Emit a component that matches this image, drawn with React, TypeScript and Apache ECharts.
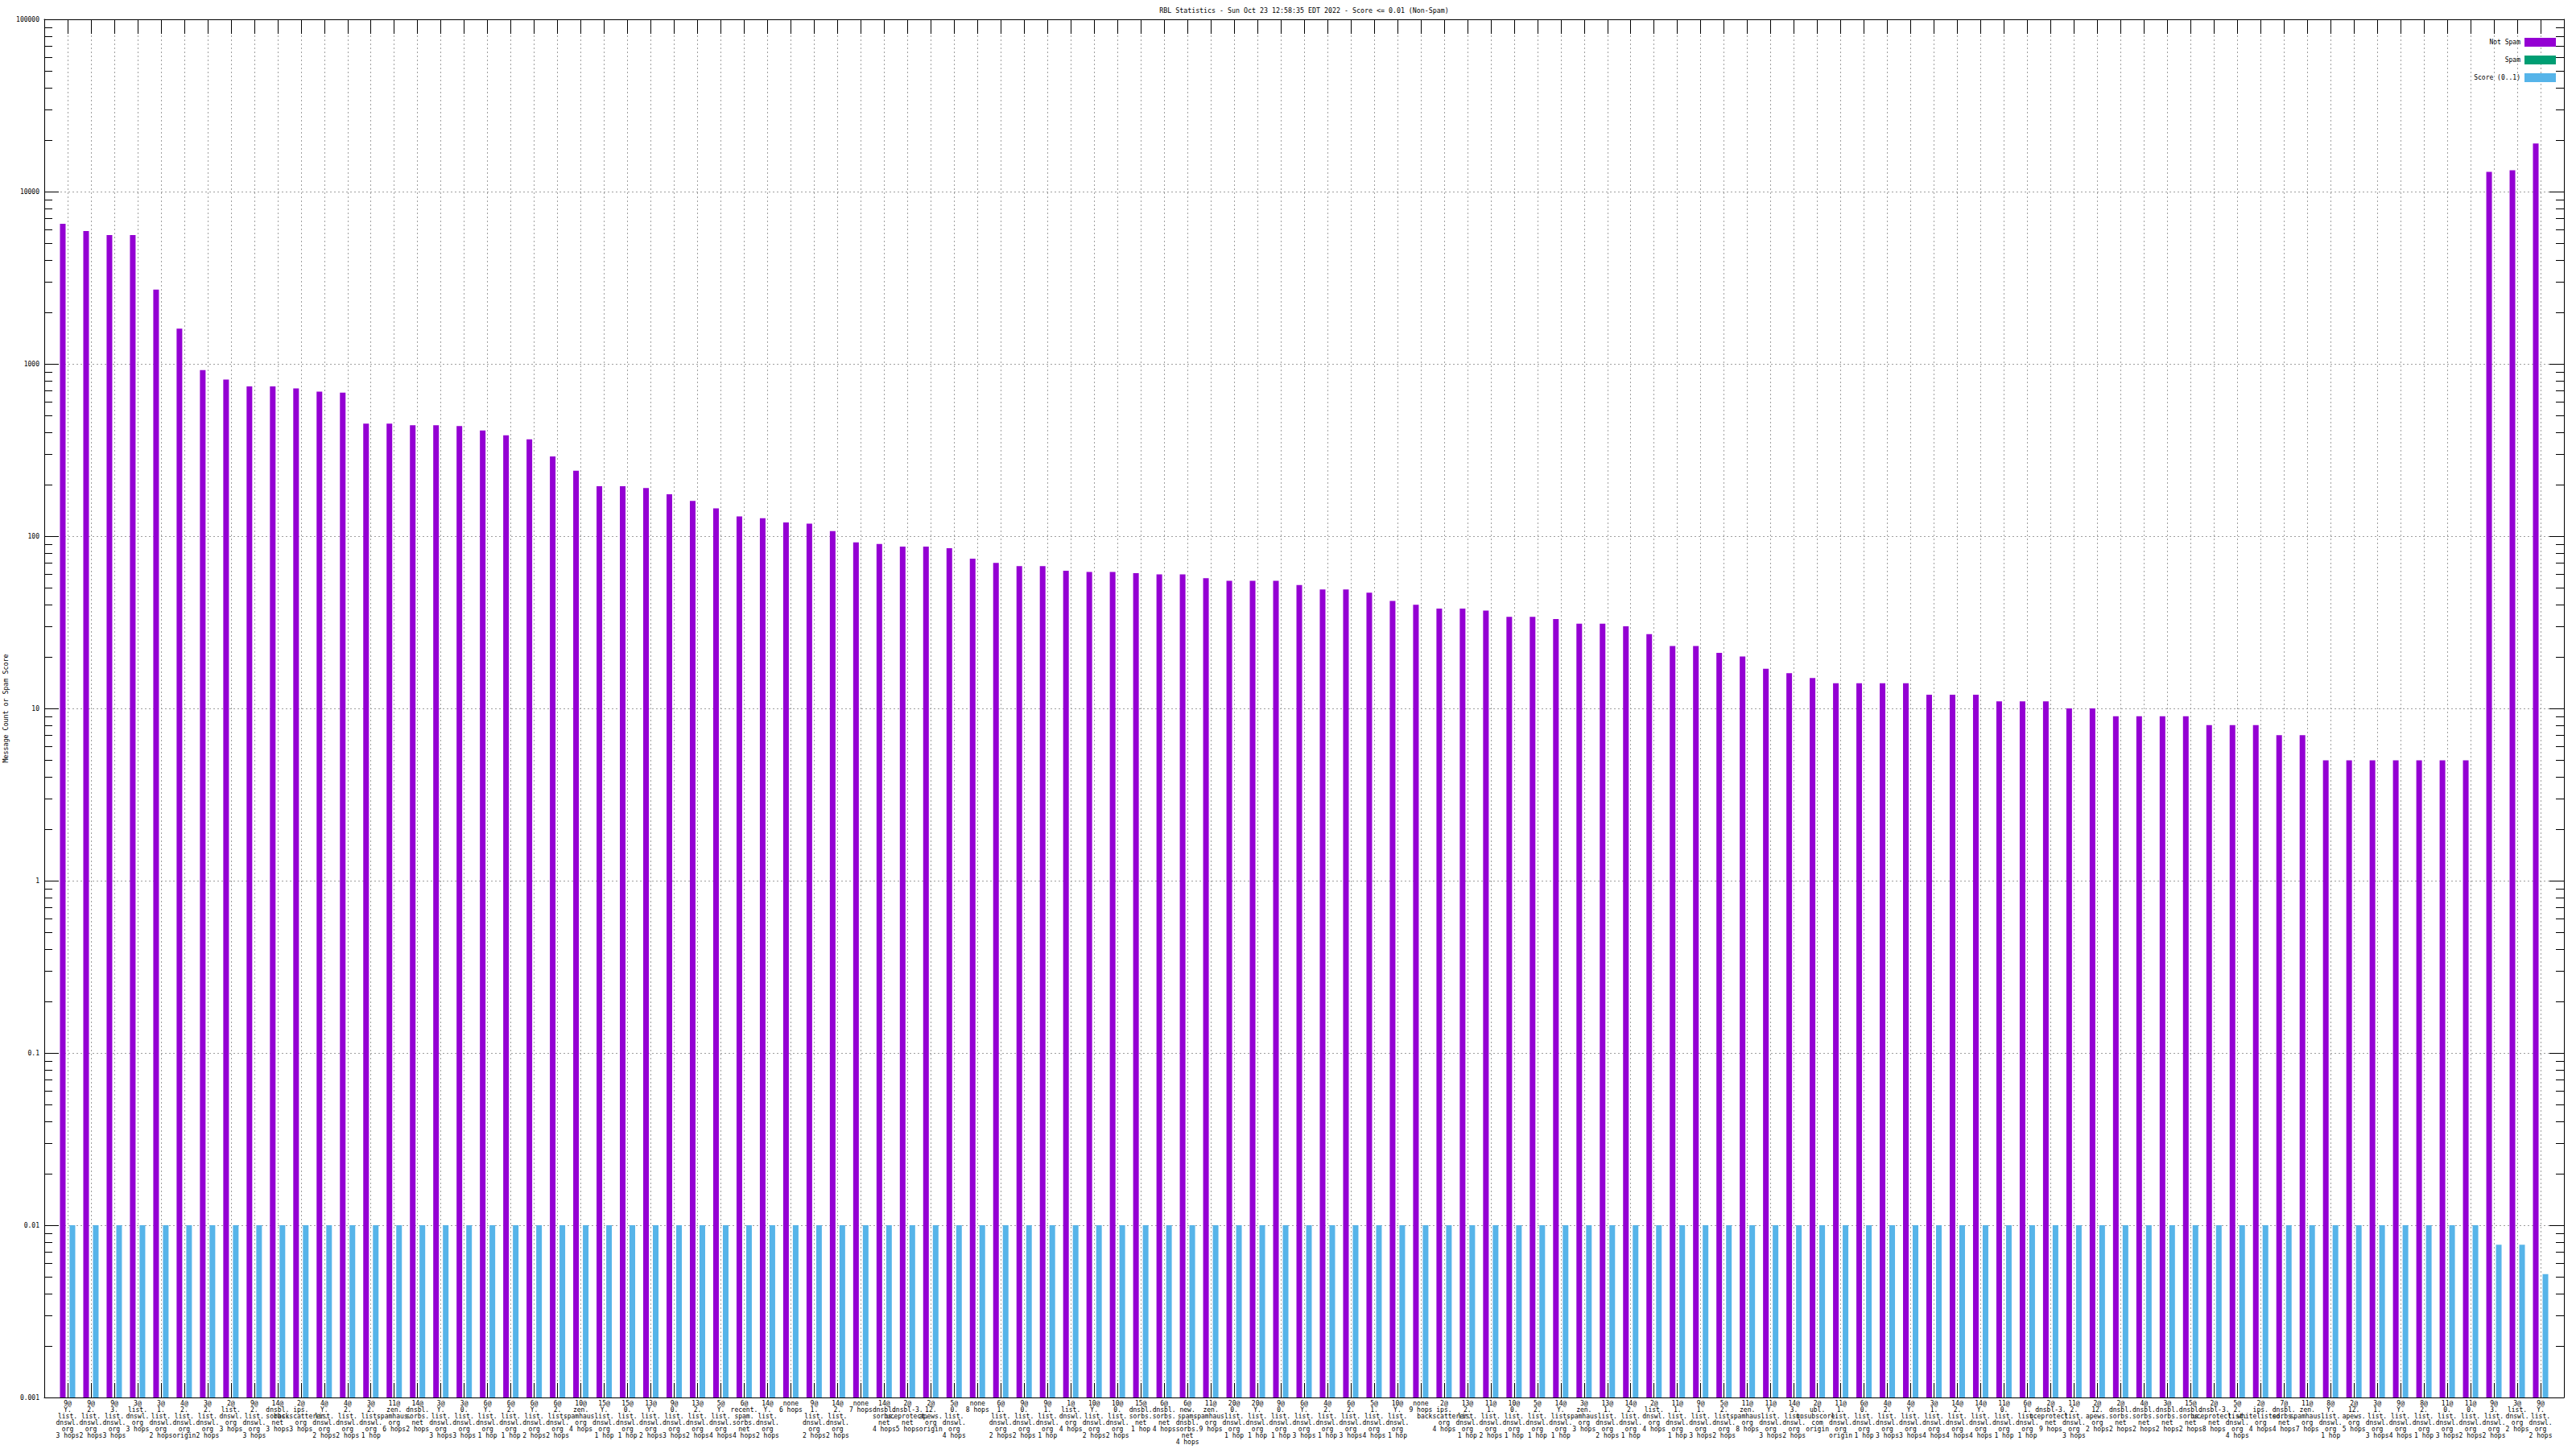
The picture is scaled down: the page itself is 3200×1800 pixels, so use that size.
import React, { useEffect, useRef } from "react";
import * as echarts from "echarts";

const FONT = "DejaVu Sans Mono";

const titleText = "RBL Statistics - Sun Oct 23 12:58:35 EDT 2022 - Score <= 0.01 (Non-Spam)";
const yAxisName = "Message Count or Spam Score";
const legendNames = ["Not Spam", "Spam", "Score (0..1)"];
const colors = ["#9400d3", "#009e73", "#56b4e9"];

const categoriesRaw = [
  "9@|Y.|list.|dnswl.|org|3 hops",
  "9@|2.|list.|dnswl.|org|2 hops",
  "9@|3.|list.|dnswl.|org|3 hops",
  "3@|list.|dnswl.|org|3 hops",
  "3@|1.|list.|dnswl.|org|2 hops",
  "4@|2.|list.|dnswl.|org|origin",
  "3@|2.|list.|dnswl.|org|2 hops",
  "2@|list.|dnswl.|org|3 hops",
  "9@|2.|list.|dnswl.|org|3 hops",
  "14@|dnsbl.|sorbs.|net|3 hops",
  "2@|ips.|backscatterer.|org|3 hops",
  "4@|Y.|list.|dnswl.|org|2 hops",
  "4@|2.|list.|dnswl.|org|2 hops",
  "3@|2.|list.|dnswl.|org|1 hop",
  "11@|zen.|spamhaus.|org|6 hops",
  "14@|dnsbl.|sorbs.|net|2 hops",
  "3@|Y.|list.|dnswl.|org|3 hops",
  "3@|0.|list.|dnswl.|org|3 hops",
  "6@|Y.|list.|dnswl.|org|1 hop",
  "6@|2.|list.|dnswl.|org|1 hop",
  "6@|Y.|list.|dnswl.|org|2 hops",
  "6@|2.|list.|dnswl.|org|2 hops",
  "10@|zen.|spamhaus.|org|4 hops",
  "15@|Y.|list.|dnswl.|org|1 hop",
  "15@|0.|list.|dnswl.|org|1 hop",
  "13@|Y.|list.|dnswl.|org|2 hops",
  "9@|0.|list.|dnswl.|org|3 hops",
  "13@|2.|list.|dnswl.|org|2 hops",
  "5@|Y.|list.|dnswl.|org|4 hops",
  "6@|recent.|spam.|sorbs.|net|4 hops",
  "14@|Y.|list.|dnswl.|org|2 hops",
  "none|6 hops",
  "9@|1.|list.|dnswl.|org|2 hops",
  "14@|2.|list.|dnswl.|org|2 hops",
  "none|7 hops",
  "14@|dnsbl.|sorbs.|net|4 hops",
  "2@|dnsbl-3.|uceprotect.|net|5 hops",
  "2@|12.|apews.|org|origin",
  "5@|0.|list.|dnswl.|org|4 hops",
  "none|8 hops",
  "6@|1.|list.|dnswl.|org|2 hops",
  "9@|0.|list.|dnswl.|org|2 hops",
  "9@|1.|list.|dnswl.|org|1 hop",
  "1@|list.|dnswl.|org|4 hops",
  "10@|Y.|list.|dnswl.|org|2 hops",
  "10@|0.|list.|dnswl.|org|2 hops",
  "15@|dnsbl.|sorbs.|net|1 hop",
  "6@|dnsbl.|sorbs.|net|4 hops",
  "6@|new.|spam.|dnsbl.|sorbs.|net|4 hops",
  "11@|zen.|spamhaus.|org|9 hops",
  "20@|0.|list.|dnswl.|org|1 hop",
  "20@|Y.|list.|dnswl.|org|1 hop",
  "9@|0.|list.|dnswl.|org|1 hop",
  "6@|Y.|list.|dnswl.|org|3 hops",
  "4@|2.|list.|dnswl.|org|1 hop",
  "6@|2.|list.|dnswl.|org|3 hops",
  "5@|1.|list.|dnswl.|org|4 hops",
  "10@|Y.|list.|dnswl.|org|1 hop",
  "none|9 hops",
  "2@|ips.|backscatterer.|org|4 hops",
  "13@|2.|list.|dnswl.|org|1 hop",
  "11@|1.|list.|dnswl.|org|2 hops",
  "10@|0.|list.|dnswl.|org|1 hop",
  "5@|2.|list.|dnswl.|org|1 hop",
  "14@|Y.|list.|dnswl.|org|1 hop",
  "3@|zen.|spamhaus.|org|3 hops",
  "13@|1.|list.|dnswl.|org|2 hops",
  "14@|2.|list.|dnswl.|org|1 hop",
  "2@|list.|dnswl.|org|4 hops",
  "11@|1.|list.|dnswl.|org|1 hop",
  "9@|1.|list.|dnswl.|org|3 hops",
  "5@|2.|list.|dnswl.|org|2 hops",
  "11@|zen.|spamhaus.|org|8 hops",
  "11@|Y.|list.|dnswl.|org|3 hops",
  "14@|3.|list.|dnswl.|org|2 hops",
  "2@|ubl.|unsubscore.|com|origin",
  "11@|1.|list.|dnswl.|org|origin",
  "6@|0.|list.|dnswl.|org|1 hop",
  "4@|2.|list.|dnswl.|org|3 hops",
  "4@|Y.|list.|dnswl.|org|3 hops",
  "3@|1.|list.|dnswl.|org|4 hops",
  "14@|2.|list.|dnswl.|org|4 hops",
  "14@|Y.|list.|dnswl.|org|4 hops",
  "11@|0.|list.|dnswl.|org|1 hop",
  "6@|1.|list.|dnswl.|org|1 hop",
  "2@|dnsbl-3.|uceprotect.|net|9 hops",
  "11@|2.|list.|dnswl.|org|3 hops",
  "2@|12.|apews.|org|2 hops",
  "2@|dnsbl.|sorbs.|net|2 hops",
  "4@|dnsbl.|sorbs.|net|2 hops",
  "3@|dnsbl.|sorbs.|net|2 hops",
  "15@|dnsbl.|sorbs.|net|2 hops",
  "2@|dnsbl-3.|uceprotect.|net|8 hops",
  "5@|2.|list.|dnswl.|org|4 hops",
  "2@|ips.|whitelisted.|org|4 hops",
  "7@|dnsbl.|sorbs.|net|4 hops",
  "11@|zen.|spamhaus.|org|7 hops",
  "8@|Y.|list.|dnswl.|org|1 hop",
  "2@|12.|apews.|org|5 hops",
  "3@|1.|list.|dnswl.|org|3 hops",
  "9@|Y.|list.|dnswl.|org|4 hops",
  "8@|2.|list.|dnswl.|org|1 hop",
  "11@|0.|list.|dnswl.|org|3 hops",
  "11@|0.|list.|dnswl.|org|2 hops",
  "9@|3.|list.|dnswl.|org|2 hops",
  "3@|list.|dnswl.|org|2 hops",
  "9@|Y.|list.|dnswl.|org|2 hops",
];
const categories = categoriesRaw.map((s) => s.replace(/\|/g, "\n"));

const notSpam = [
  6500, 5900, 5600, 5600, 2700, 1600, 920, 810, 740, 740,
  720, 690, 680, 450, 450, 440, 440, 435, 410, 385,
  365, 290, 240, 195, 195, 190, 175, 160, 145, 130,
  127, 120, 118, 107, 92, 90, 87, 87, 85, 74,
  70, 67, 67, 63, 62, 62, 61, 60, 60, 57,
  55, 55, 55, 52, 49, 49, 47, 42, 40, 38,
  38, 37, 34, 34, 33, 31, 31, 30, 27, 23,
  23, 21, 20, 17, 16, 15, 14, 14, 14, 14,
  12, 12, 12, 11, 11, 11, 10, 10, 9, 9,
  9, 9, 8, 8, 8, 7, 7, 5, 5, 5,
  5, 5, 5, 5, 13000, 13300, 19000,
];

const spam: number[] = [];

const score = [
  0.01, 0.01, 0.01, 0.01, 0.01, 0.01, 0.01, 0.01, 0.01, 0.01,
  0.01, 0.01, 0.01, 0.01, 0.01, 0.01, 0.01, 0.01, 0.01, 0.01,
  0.01, 0.01, 0.01, 0.01, 0.01, 0.01, 0.01, 0.01, 0.01, 0.01,
  0.01, 0.01, 0.01, 0.01, 0.01, 0.01, 0.01, 0.01, 0.01, 0.01,
  0.01, 0.01, 0.01, 0.01, 0.01, 0.01, 0.01, 0.01, 0.01, 0.01,
  0.01, 0.01, 0.01, 0.01, 0.01, 0.01, 0.01, 0.01, 0.01, 0.01,
  0.01, 0.01, 0.01, 0.01, 0.01, 0.01, 0.01, 0.01, 0.01, 0.01,
  0.01, 0.01, 0.01, 0.01, 0.01, 0.01, 0.01, 0.01, 0.01, 0.01,
  0.01, 0.01, 0.01, 0.01, 0.01, 0.01, 0.01, 0.01, 0.01, 0.01,
  0.01, 0.01, 0.01, 0.01, 0.01, 0.01, 0.01, 0.01, 0.01, 0.01,
  0.01, 0.01, 0.01, 0.01, 0.0077, 0.0077, 0.0052,
];

const yMin = 0.001;
const yMax = 100000;
const yDecades = [0.001, 0.01, 0.1, 1, 10, 100, 1000, 10000];
const minorMultipliers = [2, 3, 4, 5, 6, 7, 8, 9];

export default function App() {
  const ref = useRef<HTMLDivElement>(null);

  useEffect(() => {
    document.body.style.margin = "0";
    if (!ref.current) return;
    const chart = echarts.init(ref.current, null, { renderer: "svg" });

    const xCats = ["", ...categories, ""];
    const toPoints = (arr: number[]) => arr.map((v, i) => [i + 1, v]);
    const minorTicks: number[][] = [];
    yDecades.forEach((d) =>
      minorMultipliers.forEach((m) => minorTicks.push([1, Number((d * m).toPrecision(2))]))
    );

    const text = { fontFamily: FONT, fontSize: 8, color: "#000" };
    const grid = { left: 55, right: 15, top: 24, bottom: 64, containLabel: false };
    const black = { color: "#000", width: 1 };
    const dashed = { color: "#a0a0a0", width: 1, type: [2, 3] as any };
    const legendTop = [47, 69, 91];
    const BAR_W = 7;

    const barRender = (offset: number) => (params: any, api: any) => {
      const idx = api.value(0);
      const v = api.value(1);
      const p = api.coord([idx, v]);
      const cs = params.coordSys;
      const bottom = cs.y + cs.height;
      return {
        type: "rect",
        shape: { x: p[0] + offset - BAR_W / 2, y: p[1], width: BAR_W, height: bottom - p[1] },
        style: api.style(),
      };
    };

    const barSeries = (name: string, color: string, data: number[], offset: number) => ({
      name,
      type: "custom",
      data: toPoints(data),
      encode: { x: 0, y: 1 },
      itemStyle: { color },
      renderItem: barRender(offset),
    });

    chart.setOption({
      animation: false,
      backgroundColor: "#ffffff",
      title: {
        text: titleText,
        left: 1620,
        top: 9,
        padding: 0,
        textAlign: "center",
        textStyle: { fontFamily: FONT, fontSize: 8.3, fontWeight: "normal", color: "#000" },
      },
      legend: legendNames.map((n, i) => ({
        data: [{ name: n, icon: "rect", itemStyle: { color: colors[i] } }],
        right: 25,
        top: legendTop[i],
        padding: 0,
        orient: "vertical",
        align: "right",
        icon: "rect",
        itemWidth: 39,
        itemHeight: 11,
        selectedMode: false,
        textStyle: { fontFamily: FONT, fontSize: 8, color: "#000" },
      })),
      grid,
      xAxis: [
        {
          type: "category",
          data: xCats,
          boundaryGap: false,
          position: "bottom",
          axisLine: { show: true, lineStyle: black },
          axisTick: { show: true, inside: true, length: 18, interval: 0, lineStyle: black },
          axisLabel: { ...text, interval: 0, margin: 3, lineHeight: 8, align: "center", hideOverlap: false },
          splitLine: { show: true, interval: 0, lineStyle: dashed },
        },
        {
          type: "category",
          data: xCats,
          boundaryGap: false,
          position: "top",
          axisLine: { show: true, lineStyle: black },
          axisTick: { show: true, inside: true, length: 18, interval: 0, lineStyle: black },
          axisLabel: { show: false },
          splitLine: { show: false },
        },
      ],
      yAxis: [
        {
          type: "log",
          logBase: 10,
          min: yMin,
          max: yMax,
          position: "left",
          axisLine: { show: true, lineStyle: black },
          axisTick: { show: true, inside: true, length: 18, lineStyle: black },
          axisLabel: {
            ...text,
            margin: 6,
            showMinLabel: true,
            showMaxLabel: true,
            formatter: (v: number) => (v >= 1 ? String(Math.round(v)) : String(Number(v.toPrecision(1)))),
          },
          splitLine: { show: true, lineStyle: dashed },
        },
        {
          type: "log",
          logBase: 10,
          min: yMin,
          max: yMax,
          position: "right",
          axisLine: { show: true, lineStyle: black },
          axisTick: { show: true, inside: true, length: 18, lineStyle: black },
          axisLabel: { show: false },
          splitLine: { show: false },
        },
      ],
      graphic: [
        {
          type: "text",
          x: 7,
          y: 880,
          rotation: Math.PI / 2,
          style: {
            text: yAxisName,
            fontFamily: FONT,
            fontSize: 8.3,
            fill: "#000",
            align: "center",
            verticalAlign: "middle",
          },
        },
      ],
      series: [
        barSeries(legendNames[0], colors[0], notSpam, -6),
        barSeries(legendNames[1], colors[1], spam, 0),
        barSeries(legendNames[2], colors[2], score, 6),
        {
          name: "minorTicks",
          type: "custom",
          silent: true,
          clip: false,
          z: 5,
          data: minorTicks,
          encode: { x: 0, y: 1 },
          renderItem: (params: any, api: any) => {
            const v = api.value(1);
            const y = Math.round(api.coord([1, v])[1]) + 0.5;
            const cs = params.coordSys;
            return {
              type: "group",
              children: [
                { type: "line", shape: { x1: cs.x, y1: y, x2: cs.x + 10, y2: y }, style: { stroke: "#000", lineWidth: 1 } },
                {
                  type: "line",
                  shape: { x1: cs.x + cs.width - 10, y1: y, x2: cs.x + cs.width, y2: y },
                  style: { stroke: "#000", lineWidth: 1 },
                },
              ],
            };
          },
        },
      ],
    });

    return () => chart.dispose();
  }, []);

  return <div ref={ref} style={{ width: 3200, height: 1800 }} />;
}
